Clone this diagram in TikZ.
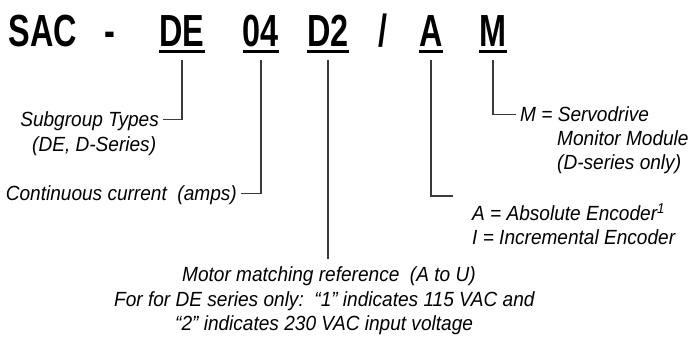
\documentclass[tikz,border=0pt]{standalone}
\usepackage{fontspec}
\usepackage{tikz}
\newfontfamily\notefont{Liberation Sans}[FakeStretch=0.93]
\newfontfamily\codefont{Liberation Sans}[FakeStretch=0.72]
\definecolor{leadgray}{HTML}{3A3A3A}
\usetikzlibrary{positioning, calc}

\begin{document}
\begin{tikzpicture}[x=1pt,y=-1pt,
  code/.style={font=\codefont\bfseries\fontsize{45}{45}\selectfont, inner sep=0pt, text depth=0pt, anchor=base},
  note/.style={font=\notefont\itshape\fontsize{20.5}{25}\selectfont, inner xsep=4pt, inner ysep=0pt, text height=15pt, text depth=0pt},
  lead/.style={draw=leadgray, line width=1.3pt, shorten <=13pt},
  uline/.style={line width=3pt}]
\useasboundingbox (0,0) rectangle (691,339);

% Part number
\node[code] (sac) at (43,47) {SAC};
\node[code] (dash) at (110,47) {-};
\node[code] (de) at (182,47) {DE};
\node[code] (cur) at (261,47) {04};
\node[code] (d2) at (328,47) {D2};
\node[code] (slash) at (383,47) {/};
\node[code] (a) at (431,47) {A};
\node[code] (m) at (493,47) {M};

\draw[uline] ([yshift=-4.5pt]de.south west) -- ([yshift=-4.5pt]de.south east);
\draw[uline] ([yshift=-4.5pt]cur.south west) -- ([yshift=-4.5pt]cur.south east);
\draw[uline] ([yshift=-4.5pt]d2.south west) -- ([yshift=-4.5pt]d2.south east);
\draw[uline] ([yshift=-4.5pt]a.south west) -- ([yshift=-4.5pt]a.south east);
\draw[uline] ([yshift=-4.5pt]m.south west) -- ([yshift=-4.5pt]m.south east);

% Descriptions
\node[note, anchor=base east] (subgrp) at (163,127) {Subgroup Types};
\node[note, anchor=base west] (subgrpb) at (28,152) {(DE, D-Series)};
\node[note, anchor=base east] (currtxt) at (241,201) {Continuous current\ \ (amps)};
\node[note, anchor=base west] (mref) at (178,282) {Motor matching reference\ \ (A to U)};
\node[note, anchor=base west] (mrefb) at (110,306) {For for DE series only:\ \ “1” indicates 115 VAC and};
\node[note, anchor=base west] (mrefc) at (171,330) {“2” indicates 230 VAC input voltage};
\node[note, anchor=base west] (enc) at (468,221) {A = Absolute Encoder\textsuperscript{1}};
\node[note, anchor=base west] (encb) at (468,245) {I = Incremental Encoder};
\node[note, anchor=base west] (mon) at (516,122) {M = Servodrive};
\node[note, anchor=base west] (monb) at (553,146) {Monitor Module};
\node[note, anchor=base west] (monc) at (553,170) {(D-series only)};
\coordinate (encend) at (453,196);

% Leaders
\draw[lead] (de.south) |- (subgrp.east);
\draw[lead] (cur.south) |- (currtxt.east);
\draw[lead, shorten >=8pt] (d2.south) -- (d2.south |- mref.north);
\draw[lead] (a.south) |- (encend);
\draw[lead] (m.south) |- (mon.west);
\end{tikzpicture}
\end{document}
